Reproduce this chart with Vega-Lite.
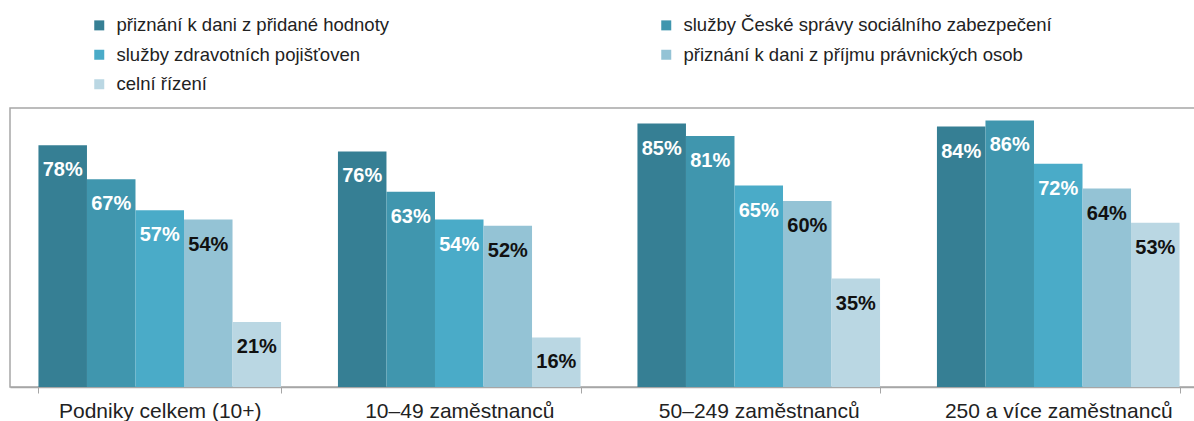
{
  "$schema": "https://vega.github.io/schema/vega-lite/v6.json",
  "autosize": "none",
  "padding": {"left": 10, "top": 108, "right": 0, "bottom": 34},
  "width": 1198,
  "height": 279,
  "background": "white",
  "config": {
    "font": "Liberation Sans",
    "view": {"stroke": "#a6a6a6", "strokeWidth": 1.5}
  },
  "data": {
    "values": [
      {"g": "Podniky celkem (10+)", "s": "přiznání k dani z přidané hodnoty", "v": 0.78},
      {"g": "Podniky celkem (10+)", "s": "služby České správy sociálního zabezpečení", "v": 0.67},
      {"g": "Podniky celkem (10+)", "s": "služby zdravotních pojišťoven", "v": 0.57},
      {"g": "Podniky celkem (10+)", "s": "přiznání k dani z příjmu právnických osob", "v": 0.54},
      {"g": "Podniky celkem (10+)", "s": "celní řízení", "v": 0.21},
      {"g": "10–49 zaměstnanců", "s": "přiznání k dani z přidané hodnoty", "v": 0.76},
      {"g": "10–49 zaměstnanců", "s": "služby České správy sociálního zabezpečení", "v": 0.63},
      {"g": "10–49 zaměstnanců", "s": "služby zdravotních pojišťoven", "v": 0.54},
      {"g": "10–49 zaměstnanců", "s": "přiznání k dani z příjmu právnických osob", "v": 0.52},
      {"g": "10–49 zaměstnanců", "s": "celní řízení", "v": 0.16},
      {"g": "50–249 zaměstnanců", "s": "přiznání k dani z přidané hodnoty", "v": 0.85},
      {"g": "50–249 zaměstnanců", "s": "služby České správy sociálního zabezpečení", "v": 0.81},
      {"g": "50–249 zaměstnanců", "s": "služby zdravotních pojišťoven", "v": 0.65},
      {"g": "50–249 zaměstnanců", "s": "přiznání k dani z příjmu právnických osob", "v": 0.60},
      {"g": "50–249 zaměstnanců", "s": "celní řízení", "v": 0.35},
      {"g": "250 a více zaměstnanců", "s": "přiznání k dani z přidané hodnoty", "v": 0.84},
      {"g": "250 a více zaměstnanců", "s": "služby České správy sociálního zabezpečení", "v": 0.86},
      {"g": "250 a více zaměstnanců", "s": "služby zdravotních pojišťoven", "v": 0.72},
      {"g": "250 a více zaměstnanců", "s": "přiznání k dani z příjmu právnických osob", "v": 0.64},
      {"g": "250 a více zaměstnanců", "s": "celní řízení", "v": 0.53}
    ]
  },
  "encoding": {
    "x": {
      "field": "g", "type": "nominal", "sort": null,
      "scale": {"paddingInner": 0.19, "paddingOuter": 0.095},
      "axis": {
        "title": null, "labelAngle": 0, "tickBand": "extent",
        "domainColor": "#a6a6a6", "domainWidth": 1.5,
        "tickColor": "#a6a6a6", "tickSize": 6, "tickWidth": 1,
        "labelFont": "Liberation Sans", "labelFontSize": 21, "labelColor": "#222222",
        "labelPadding": 7, "labelLimit": 400
      }
    },
    "xOffset": {"field": "s", "type": "nominal", "sort": null, "scale": {"paddingInner": 0, "paddingOuter": 0}},
    "y": {"field": "v", "type": "quantitative", "scale": {"domain": [0, 0.9], "nice": false}, "axis": null}
  },
  "layer": [
    {
      "mark": {"type": "bar"},
      "encoding": {
        "color": {
          "field": "s", "type": "nominal", "sort": null,
          "scale": {
            "domain": ["přiznání k dani z přidané hodnoty", "služby České správy sociálního zabezpečení", "služby zdravotních pojišťoven", "přiznání k dani z příjmu právnických osob", "celní řízení"],
            "range": ["#367f94", "#4096ae", "#4aabc8", "#94c3d5", "#bad7e3"]
          },
          "legend": {
            "title": null, "orient": "none", "legendX": 80, "legendY": -92,
            "direction": "horizontal",
            "columns": 2, "columnPadding": 267, "rowPadding": 10.5, "padding": 0,
            "symbolType": "square", "symbolSize": 100, "symbolStrokeWidth": 0,
            "labelFont": "Liberation Sans", "labelFontSize": 18.5, "labelColor": "#222222",
            "labelOffset": 8, "labelLimit": 600
          }
        }
      }
    },
    {
      "mark": {"type": "text", "fontWeight": "bold", "fontSize": 20, "baseline": "middle", "dy": 25, "font": "Liberation Sans"},
      "encoding": {
        "text": {"field": "v", "type": "quantitative", "format": ".0%"},
        "color": {
          "condition": {"test": "datum.s === 'celní řízení' || datum.s === 'přiznání k dani z příjmu právnických osob'", "value": "#111111"},
          "value": "white"
        }
      }
    }
  ]
}
